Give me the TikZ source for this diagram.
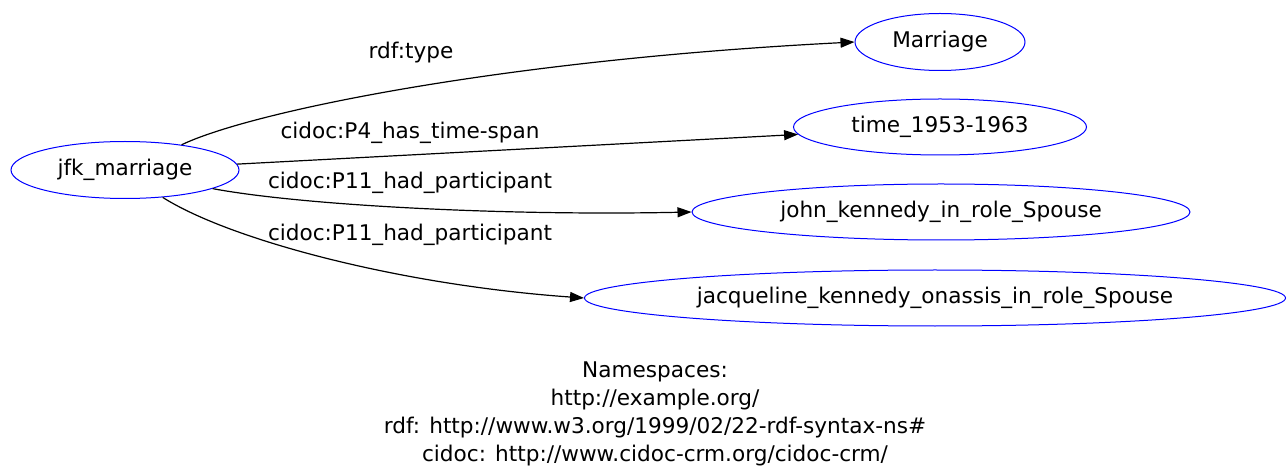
\documentclass[tikz,border=0pt]{standalone}
\usepackage{fontspec}
\setmainfont{DejaVu Sans}
\usetikzlibrary{shapes.geometric,arrows.meta}
\newlength{\pxu}
\setlength{\pxu}{0.75pt}

\begin{document}
\begin{tikzpicture}[x=0.75pt,y=0.75pt,
  every node/.style={font=\fontsize{16.2}{21}\selectfont},
  res/.style={ellipse,draw=blue,line width=0.75pt,inner sep=0pt},
  prop/.style={line width=0.9pt,-{Triangle[length=10.5pt,width=7.5pt]}}]
  \useasboundingbox (0,0) rectangle (1287,-466);
  % resources
  \node[res,minimum width=228\pxu,minimum height=57\pxu] (jfk) at (125,-170) {jfk\_marriage};
  \node[res,minimum width=170\pxu,minimum height=57\pxu] (mar) at (940,-42) {Marriage};
  \node[res,minimum width=293\pxu,minimum height=56\pxu] (time) at (940,-127) {time\_1953-1963};
  \node[res,minimum width=498\pxu,minimum height=56\pxu] (john) at (941,-212) {john\_kennedy\_in\_role\_Spouse};
  \node[res,minimum width=701\pxu,minimum height=56\pxu] (jac) at (935,-298) {jacqueline\_kennedy\_onassis\_in\_role\_Spouse};
  % properties
  \draw[prop] (jfk.24) .. controls (250,-112) and (500,-60) .. (mar.west);
  \draw[prop] (jfk.3) -- (time.183);
  \draw[prop] (jfk.-12) .. controls (300,-205) and (500,-216) .. (john.west);
  \draw[prop] (jfk.-36) .. controls (230,-240) and (400,-285) .. (jac.west);
  \node (l1) at (411,-53) {rdf:type};
  \node (l2) at (410,-133) {cidoc:P4\_has\_time-span};
  \node (l3) at (410,-183) {cidoc:P11\_had\_participant};
  \node (l4) at (410,-235) {cidoc:P11\_had\_participant};
  \node[align=center] (ns) at (655,-414) {Namespaces:\\http://example.org/\\rdf: http://www.w3.org/1999/02/22-rdf-syntax-ns\#\\cidoc: http://www.cidoc-crm.org/cidoc-crm/};
\end{tikzpicture}
\end{document}
